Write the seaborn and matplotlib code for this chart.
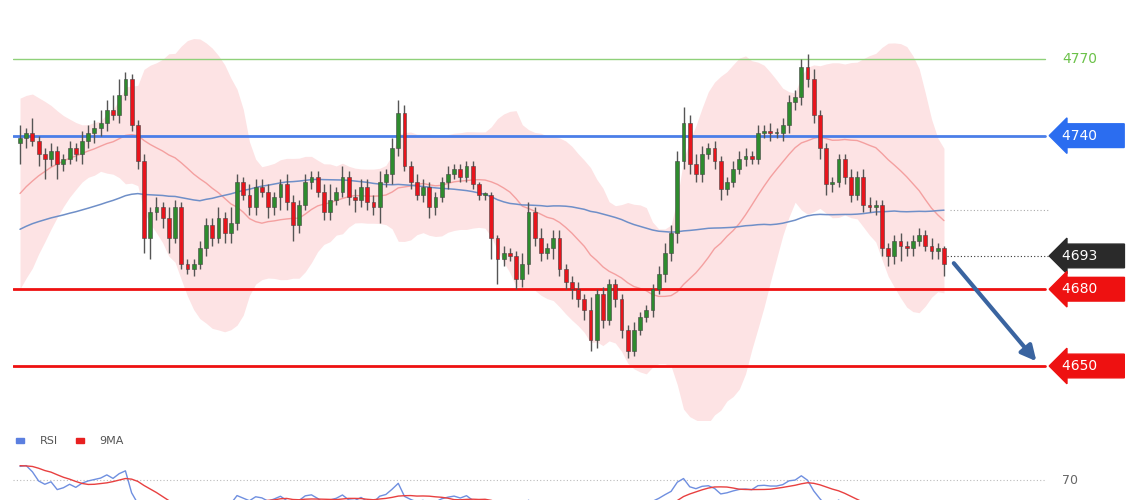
import numpy as np
import pandas as pd
import matplotlib
matplotlib.use("Agg")
import matplotlib.pyplot as plt
import seaborn as sns

# earlier closes (not drawn), only used to seed the moving averages and bands
prior_closes = [4672,4676,4670,4668,4674,4680,4678,4684,4680,4686,
                4690,4688,4694,4692,4698,4700,4704,4708,4712,4716,
                4718,4722,4726,4724,4730,4734,4732,4736,4738,4737]
closes = [4739,4741,4738,4733,4731,4734,4729,4731,4735,4733,
          4738,4741,4743,4745,4750,4748,4756,4762,4744,4730,
          4700,4710,4712,4708,4700,4712,4690,4688,4690,4696,
          4705,4700,4708,4702,4706,4722,4717,4712,4720,4718,
          4712,4716,4721,4714,4705,4713,4722,4724,4718,4710,
          4715,4718,4724,4716,4715,4720,4714,4712,4722,4725,
          4735,4749,4728,4722,4717,4720,4712,4716,4722,4725,
          4727,4724,4728,4721,4717,4717,4700,4692,4694,4693,
          4684,4690,4710,4700,4694,4696,4700,4688,4683,4680,
          4676,4672,4660,4678,4668,4682,4676,4664,4656,4664,
          4669,4672,4680,4686,4694,4702,4730,4745,4729,4725,
          4733,4735,4730,4719,4722,4727,4731,4732,4731,4741,
          4742,4741,4741,4744,4753,4755,4767,4762,4748,4735,
          4721,4722,4731,4724,4717,4724,4713,4712,4713,4696,
          4693,4699,4697,4696,4699,4701,4697,4695,4696,4690]
wick_up = [5,2,6,2,2,3,2,2,3,2,4,3,3,5,4,6,6,3,2,2,
           3,2,4,2,4,3,2,2,2,3,3,3,4,2,6,3,2,4,3,3,
           3,2,2,4,3,2,3,2,2,3,6,2,4,2,3,3,3,3,4,2,
           4,5,3,2,3,3,2,2,2,3,2,2,2,2,1,1,1,1,3,2,
           2,4,4,2,4,2,3,3,2,2,3,2,5,2,3,2,2,2,2,3,
           2,2,2,3,4,3,4,6,3,4,3,2,3,2,2,3,3,3,2,3,
           2,3,2,3,3,3,3,5,4,2,2,2,2,2,3,2,3,3,2,2,
           2,2,3,2,2,3,2,3,2,1]
wick_dn = [8,4,2,5,8,3,6,3,2,3,4,3,4,3,3,2,3,2,2,3,
           6,8,3,4,6,2,2,2,3,2,3,3,2,4,4,3,2,3,3,2,
           4,3,5,3,6,3,2,3,2,3,3,2,2,3,5,3,3,3,6,2,
           4,3,2,3,2,3,4,3,2,3,2,2,2,2,2,2,8,10,3,2,
           4,3,4,3,3,2,4,3,3,4,3,4,4,3,3,2,3,3,3,2,
           2,2,3,2,3,3,4,3,4,3,3,2,3,4,2,2,2,3,2,2,
           2,3,2,3,3,3,3,3,3,4,4,3,2,3,3,2,3,2,3,3,
           4,3,6,3,3,2,2,3,3,5]
levels = [4770, 4740, 4680, 4650]
level_colors = ["#8fd17a", "#4b7ee8", "#ee1111", "#ee1111"]
last_label = 4693

sns.set_style("white")
plt.rcParams['font.family'] = ['DejaVu Sans']

allc = pd.Series(prior_closes + closes, dtype=float)
k = len(prior_closes)
ma20_all = allc.rolling(20, min_periods=1).mean()
sd20_all = allc.rolling(20, min_periods=2).std().bfill()
ma60_all = allc.rolling(60, min_periods=1).mean()
delta = allc.diff()
gain = delta.clip(lower=0).ewm(alpha=1/14).mean()
loss = (-delta.clip(upper=0)).ewm(alpha=1/14).mean()
rsi_all = 100 - 100 / (1 + gain / loss.replace(0, 0.01))

df = pd.DataFrame({"i": np.arange(len(closes)), "close": closes})
df["open"] = [prior_closes[-1]] + closes[:-1]
df["high"] = df[["open", "close"]].max(axis=1) + wick_up
df["low"] = df[["open", "close"]].min(axis=1) - wick_dn
df["ma20"] = ma20_all.iloc[k:].values
df["ma50"] = ma60_all.iloc[k:].values
df["up"] = df["ma20"] + 2.2 * sd20_all.iloc[k:].values
df["dn"] = df["ma20"] - 2.2 * sd20_all.iloc[k:].values
df["rsi"] = rsi_all.iloc[k:].values
df["rsi_ma"] = rsi_all.rolling(9, min_periods=1).mean().iloc[k:].values

fig = plt.figure(figsize=(11.4, 5.0), dpi=100)
ax = fig.add_axes([13/1140, 80/500, 1037/1140, 420/500])
ax.set_xlim(-1.13, 166.1)
ax.set_ylim(4628.9, 4793.0)
ax.axis("off")

ax.fill_between(df["i"], df["dn"], df["up"], color="#fde3e4", lw=0, zorder=1)
sns.lineplot(data=df, x="i", y="ma20", ax=ax, color="#f4a0a0", lw=1, zorder=2)
sns.lineplot(data=df, x="i", y="ma50", ax=ax, color="#6f8fc8", lw=1.1, zorder=2)

for lv, c in zip(levels, level_colors):
    ax.axhline(lv, xmin=0, xmax=0.995, color=c, lw=1 if lv == 4770 else 2, zorder=3)

green, red = "#2e8b2e", "#e8141c"
for _, r in df.iterrows():
    c = green if r["close"] >= r["open"] else red
    ax.vlines(r["i"], r["low"], r["high"], color="#555555", lw=1, zorder=4)
    ax.bar(r["i"], max(abs(r["close"] - r["open"]), 0.5), bottom=min(r["open"], r["close"]),
           width=0.62, color=c, edgecolor="#444444", lw=0.4, zorder=5)

n = len(closes)
ax.plot([n - 0.5, 166], [closes[-1] + 3, closes[-1] + 3], ls=(0, (1, 2)), color="#333333", lw=0.8)
ax.plot([n, 166], [df["ma50"].iloc[-1], df["ma50"].iloc[-1]], ls=(0, (1, 2)), color="#aaaaaa", lw=0.8)
ax.annotate("", xy=(n + 14.2, 4651), xytext=(n + 0.3, 4691),
            arrowprops=dict(arrowstyle="-|>,head_width=0.45,head_length=0.9", color="#3a64a0", lw=3))

ax.text(1.012, 4770, "4770", transform=ax.get_yaxis_transform(), color="#6cc24a",
        fontsize=10, va="center")
for lv, c in [(4740, "#2b6df0"), (last_label, "#2a2a2a"), (4680, "#ee1111"), (4650, "#ee1111")]:
    ax.text(1.012, lv, f"{lv}     ", transform=ax.get_yaxis_transform(), color="white",
            fontsize=10, va="center", clip_on=False,
            bbox=dict(boxstyle="larrow,pad=0.35", fc=c, ec=c))

# RSI panel
ax2 = fig.add_axes([13/1140, 0, 1037/1140, 45/500])
ax2.set_xlim(-1.13, 166.1)
ax2.set_ylim(50, 95)
ax2.axis("off")
ax2.axhline(70, xmin=0, xmax=0.995, color="#bbbbbb", lw=0.8, ls=(0, (1, 2)))
sns.lineplot(data=df, x="i", y="rsi", ax=ax2, color="#6f8fe0", lw=1)
sns.lineplot(data=df, x="i", y="rsi_ma", ax=ax2, color="#e84040", lw=1)
ax2.text(1.012, 70, "70", transform=ax2.get_yaxis_transform(), color="#666666", fontsize=9, va="center")

fig.patches.append(plt.Rectangle((16/1140, 57/500), 8/1140, 5/500, transform=fig.transFigure, color="#5b7fe0"))
fig.text(40/1140, 59/500, "RSI", fontsize=8, color="#555555", va="center")
fig.patches.append(plt.Rectangle((76/1140, 57/500), 8/1140, 5/500, transform=fig.transFigure, color="#e82020"))
fig.text(99/1140, 59/500, "9MA", fontsize=8, color="#555555", va="center")

fig.savefig("out.png", dpi=100, facecolor="white")
